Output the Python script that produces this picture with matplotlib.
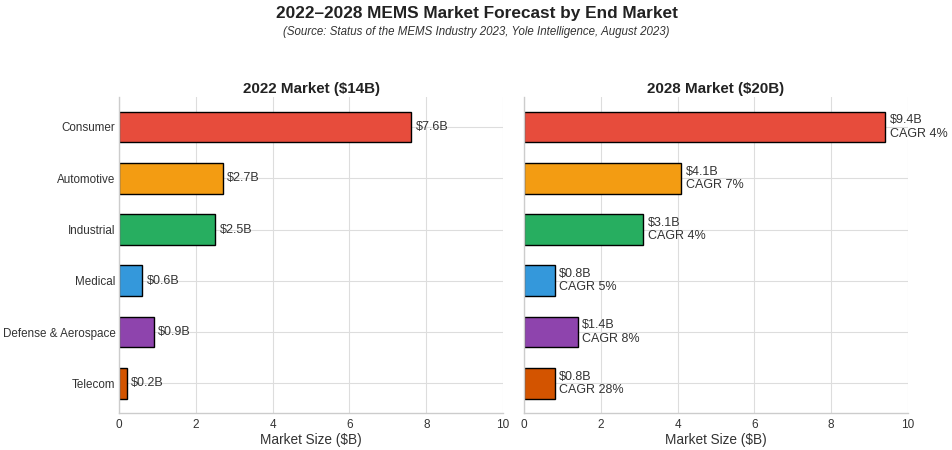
import matplotlib
matplotlib.use('Agg')
import matplotlib.pyplot as plt

plt.rcParams['font.family'] = ['Liberation Sans', 'DejaVu Sans']

categories = ['Consumer', 'Automotive', 'Industrial', 'Medical',
              'Defense & Aerospace', 'Telecom']
market_2022 = [7.6, 2.7, 2.5, 0.6, 0.9, 0.2]
market_2028 = [9.4, 4.1, 3.1, 0.8, 1.4, 0.8]
cagr = [4, 7, 4, 5, 8, 28]
colors = ['#E74C3C', '#F39C12', '#27AE60', '#3498DB', '#8E44AD', '#D35400']
xticks = [0, 2, 4, 6, 8, 10]

fig = plt.figure(figsize=(9.53, 4.5), dpi=100)
ax1 = fig.add_axes([0.1249, 0.082, 0.403, 0.702])
ax2 = fig.add_axes([0.5498, 0.082, 0.403, 0.702])

pos = list(range(len(categories)))


def style(ax, title):
    ax.set_axisbelow(True)
    ax.grid(True, color='#dddddd', linewidth=0.8)
    for s in ['top', 'right']:
        ax.spines[s].set_visible(False)
    for s in ['left', 'bottom']:
        ax.spines[s].set_color('#cccccc')
        ax.spines[s].set_linewidth(1.0)
    ax.set_xlim(0, 10)
    ax.set_xticks(xticks)
    ax.tick_params(axis='x', length=0, labelsize=8.5, colors='#333333', pad=4)
    ax.tick_params(axis='y', length=0, labelsize=8.4, colors='#333333', pad=2.5)
    ax.set_xlabel('Market Size ($B)', fontsize=9.8, color='#333333', labelpad=1.5)
    ax.set_title(title, fontsize=10.9, fontweight='bold', color='#222222', pad=3)
    ax.invert_yaxis()


ax1.barh(pos, market_2022, height=0.6, color=colors, edgecolor='black', linewidth=1)
for i, v in enumerate(market_2022):
    ax1.text(v + 0.12, i, f'${v}B', va='center', ha='left', fontsize=9, color='#333333')
ax1.set_yticks(pos)
ax1.set_yticklabels(categories)
style(ax1, '2022 Market ($14B)')

ax2.barh(pos, market_2028, height=0.6, color=colors, edgecolor='black', linewidth=1)
for i, v in enumerate(market_2028):
    ax2.text(v + 0.12, i, f'${v}B\nCAGR {cagr[i]}%', va='center', ha='left',
             fontsize=9, color='#333333', linespacing=1.15)
ax2.set_yticks(pos)
ax2.set_yticklabels([])
style(ax2, '2028 Market ($20B)')

fig.text(0.5, 0.969, '2022\u20132028 MEMS Market Forecast by End Market',
         ha='center', va='center', fontsize=12.4, fontweight='bold', color='#222222')
fig.text(0.5, 0.93, '(Source: Status of the MEMS Industry 2023, Yole Intelligence, August 2023)',
         ha='center', va='center', fontsize=8.3, style='italic', color='#333333')

fig.savefig('out.png', dpi=100)
